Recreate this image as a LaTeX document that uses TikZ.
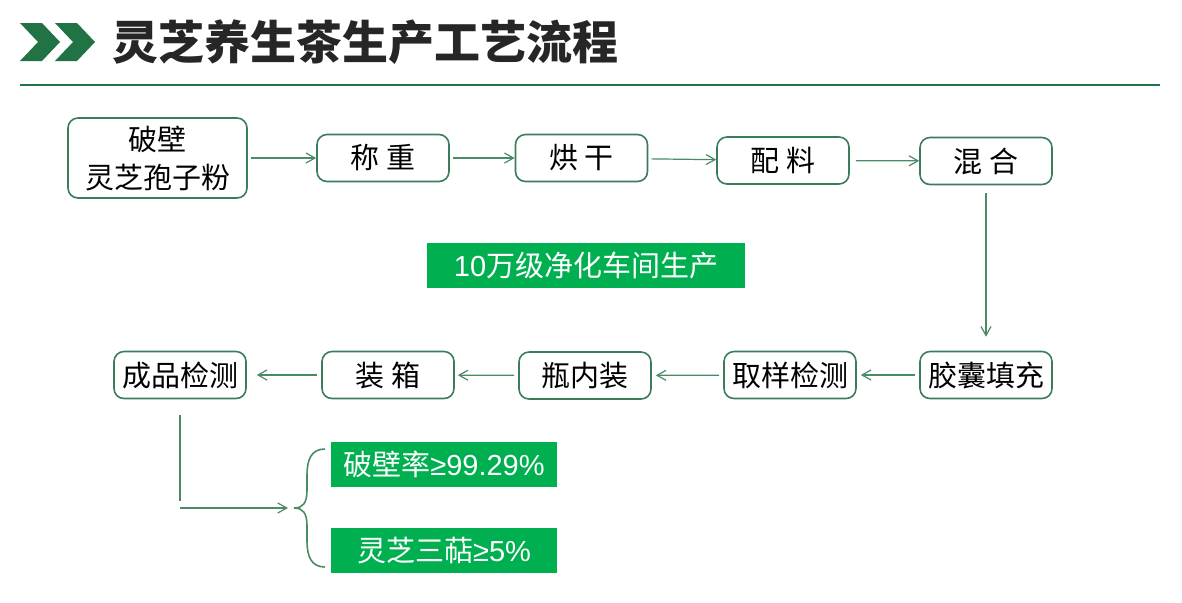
\documentclass[tikz,border=0pt]{standalone}
\usepackage{fontspec}
\setmainfont{Noto Sans CJK SC}
\newfontfamily\latinsans{Liberation Sans}
\usepackage{xcolor}
\usepackage{tikz}
\usetikzlibrary{arrows.meta}

\definecolor{brand}{HTML}{217346}
\definecolor{boxline}{HTML}{3B7D5B}
\definecolor{flowline}{HTML}{4A8B66}
\definecolor{tagfill}{HTML}{00B050}
\definecolor{titlegray}{HTML}{262626}

\begin{document}
\begin{tikzpicture}[
        x=0.5pt, y=-0.5pt,
        proc/.style={draw=boxline, line width=0.8pt, rounded corners=5pt, fill=white, minimum width=66pt, minimum height=23.5pt, inner sep=0pt, align=center},
        tag/.style={fill=tagfill, text=white, minimum width=113pt, minimum height=22.5pt, inner sep=0pt},
        arrow/.style={-{Straight Barb[length=4.5pt, width=5pt]}, draw=flowline, line width=0.6pt},
        link/.style={draw=flowline, line width=0.6pt},
        every node/.style={font=\fontsize{14.5}{19}\selectfont}
      ]
        \useasboundingbox (0,0) rectangle (1182,602);

        % Title bar
        \foreach \dx in {0, 35} {
            \fill[brand, xshift=\dx*0.5pt] (20,23) -- (42,23) -- (60,42) -- (42,61) -- (20,61) -- (38,42) -- cycle;
        }
        \node[anchor=west, inner sep=0pt, text=titlegray, font=\fontsize{23}{23}\selectfont\bfseries] (title) at (112,42) {灵芝养生茶生产工艺流程};
        \draw[brand, line width=1pt] (20,84.5) -- (1160,84.5);

        % First row
        \node[proc, minimum width=89.5pt, minimum height=40pt] (powder) at (157.5,158) {破壁\\灵芝孢子粉};
        \node[proc] (weigh) at (383,158) {称 重};
        \node[proc] (dry) at (581.5,158) {烘 干};
        \node[proc] (mix) at (783,160.5) {配 料};
        \node[proc] (blend) at (986,161) {混 合};

        \draw[arrow, shorten <=1.5pt] (powder) -- (weigh);
        \draw[arrow, shorten <=1.5pt] (weigh) -- (dry);
        \draw[arrow, shorten <=1.5pt] (dry) -- (mix);
        \draw[arrow, shorten <=3pt] (mix) -- (blend);

        \node[tag, minimum width=159pt] (clean) at (586,265.5) {{\latinsans 10}万级净化车间生产};

        % Second row
        \node[proc] (capsule) at (986,375) {胶囊填充};
        \node[proc] (sample) at (790,375) {取样检测};
        \node[proc] (bottle) at (585,375.5) {瓶内装};
        \node[proc] (pack) at (388,375) {装 箱};
        \node[proc] (final) at (180,375) {成品检测};

        \draw[arrow, shorten <=4pt, shorten >=7pt] (blend) -- (capsule);
        \draw[arrow, shorten <=2pt, shorten >=2pt] (capsule) -- (sample);
        \draw[arrow, shorten <=2pt, shorten >=2pt] (sample) -- (bottle);
        \draw[arrow, shorten <=2pt, shorten >=1.5pt] (bottle) -- (pack);
        \draw[arrow, shorten <=2pt, shorten >=5pt] (pack) -- (final);

        % Results
        \coordinate (drop) at (180,501);
        \coordinate (turn) at (180,508);
        \coordinate (brace) at (294,508);
        \draw[link] ([yshift=-8pt]final.south) -- (drop);
        \draw[arrow, shorten >=3pt] (turn) -- (brace);
        \draw[link, line width=0.8pt] (325,449) .. controls (311,449) and (307,460) .. (307,475) -- (307,490)
            .. controls (307,503) and (303,508) .. (brace)
            .. controls (303,508) and (307,513) .. (307,526) -- (307,541)
            .. controls (307,556) and (311,567) .. (325,567);

        \node[tag] (rate) at (444,464.5) {破壁率{\latinsans ≥99.29\%}};
        \node[tag] (terp) at (444,550.5) {灵芝三萜{\latinsans ≥5\%}};

    \end{tikzpicture}
\end{document}
